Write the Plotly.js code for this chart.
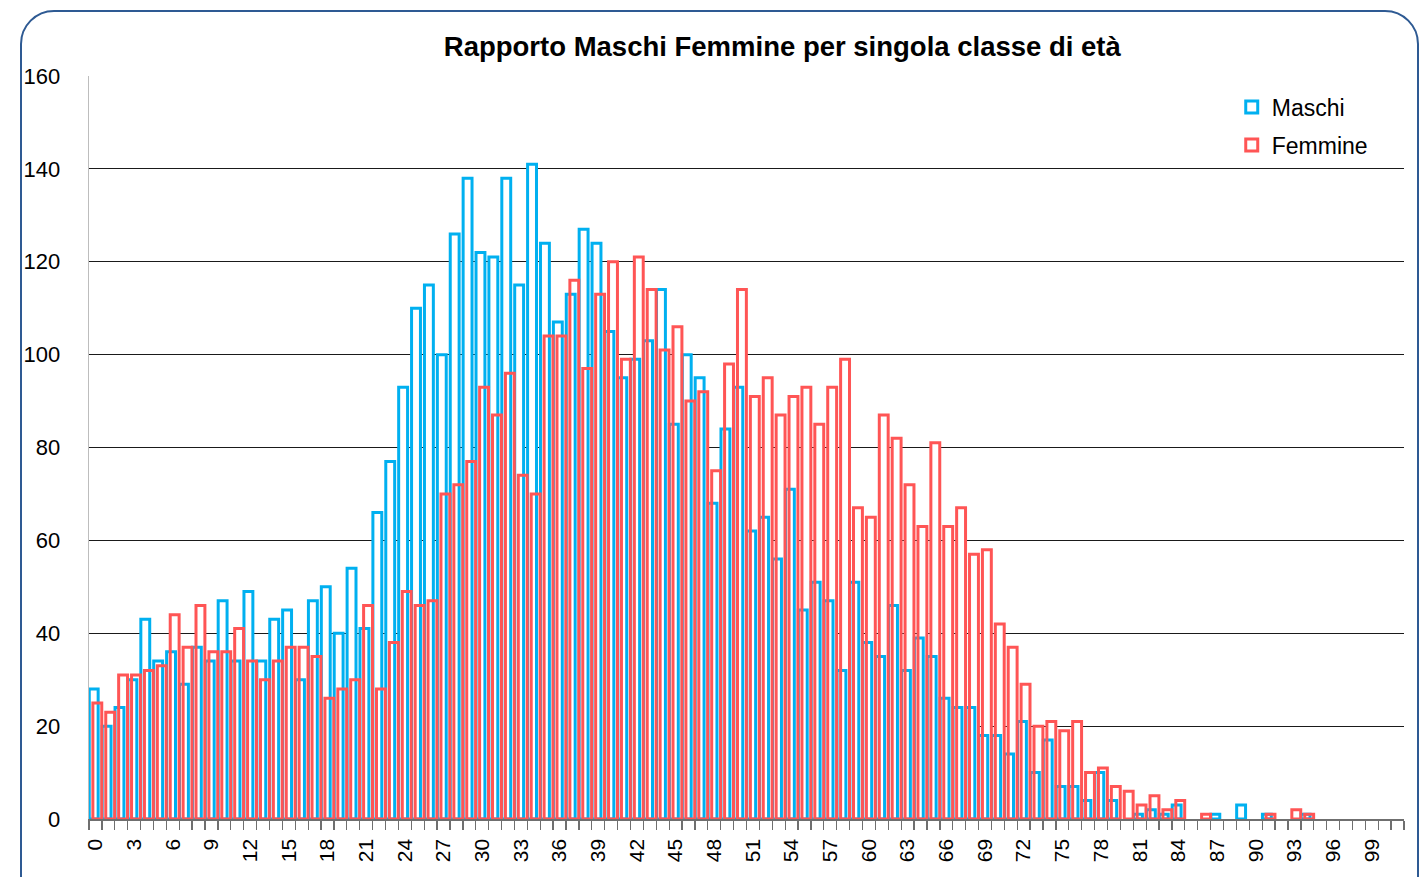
<!DOCTYPE html>
<html>
<head>
<meta charset="utf-8">
<script src="https://cdn.plot.ly/plotly-3.0.1.min.js"></script>
<style>
  html, body { margin: 0; padding: 0; background: #ffffff; overflow: hidden; }
  #frame { position: absolute; left: 20px; top: 10px; width: 1399px; height: 920px;
           border: 2.5px solid #2E5A93; border-radius: 34px; box-sizing: border-box; pointer-events: none; z-index: 5; }
  #chart { position: absolute; left: 0; top: 0; width: 1426px; height: 877px; }
</style>
</head>
<body>
<div id="chart"></div>
<div id="frame"></div>
<script>
// ---- data ----
const ages = [];
for (let a = 0; a <= 101; a++) ages.push(a);

const maschi = [
  28, 20, 24, 30, 43, 34, 36, 29, 37, 34,
  47, 34, 49, 34, 43, 45, 30, 47, 50, 40,
  54, 41, 66, 77, 93, 110, 115, 100, 126, 138,
  122, 121, 138, 115, 141, 124, 107, 113, 127, 124,
  105, 95, 99, 103, 114, 85, 100, 95, 68, 84,
  93, 62, 65, 56, 71, 45, 51, 47, 32, 51,
  38, 35, 46, 32, 39, 35, 26, 24, 24, 18,
  18, 14, 21, 10, 17, 7, 7, 4, 10, 4,
  0, 1, 2, 1, 3, 0, 0, 1, 0, 3,
  0, 1, 0, 0, 1, 0, 0, 0, 0, 0,
  0, 0
];

const femmine = [
  25, 23, 31, 31, 32, 33, 44, 37, 46, 36,
  36, 41, 34, 30, 34, 37, 37, 35, 26, 28,
  30, 46, 28, 38, 49, 46, 47, 70, 72, 77,
  93, 87, 96, 74, 70, 104, 104, 116, 97, 113,
  120, 99, 121, 114, 101, 106, 90, 92, 75, 98,
  114, 91, 95, 87, 91, 93, 85, 93, 99, 67,
  65, 87, 82, 72, 63, 81, 63, 67, 57, 58,
  42, 37, 29, 20, 21, 19, 21, 10, 11, 7,
  6, 3, 5, 2, 4, 0, 1, 0, 0, 0,
  0, 1, 0, 2, 1, 0, 0, 0, 0, 0,
  0, 0
];

const tickAges = [0, 3, 6, 9, 12, 15, 18, 21, 24, 27, 30, 33, 36, 39, 42, 45, 48,
                  51, 54, 57, 60, 63, 66, 69, 72, 75, 78, 81, 84, 87, 90, 93, 96, 99];
const yTicks = [0, 20, 40, 60, 80, 100, 120, 140, 160];

const titleText = 'Rapporto Maschi Femmine per singola classe di età';

// ---- styles ----
const BLUE = '#00B0F0';
const RED = '#FF5555';
const FONT = 'Liberation Sans, Arial, sans-serif';
const BAR_W = 0.69;
const BLUE_OFF = -0.48;
const RED_OFF = -0.2;
const LW = 3;

// empty classes are not drawn (no flat outline at zero)
const hideZero = v => (v === 0 ? null : v);

const traces = [
  { // white backing for the red outlines (hides grid lines inside them)
    type: 'bar', x: ages, y: femmine.map(hideZero), width: BAR_W, offset: RED_OFF,
    marker: { color: '#ffffff', line: { width: 0 } },
    showlegend: false, hoverinfo: 'skip'
  },
  {
    type: 'bar', name: 'Maschi', x: ages, y: maschi.map(hideZero), width: BAR_W, offset: BLUE_OFF,
    legendgroup: 'm',
    marker: { color: '#ffffff', line: { color: BLUE, width: LW } }
  },
  {
    type: 'bar', name: 'Femmine', x: ages, y: femmine.map(hideZero), width: BAR_W, offset: RED_OFF,
    legendgroup: 'f',
    marker: { color: 'rgba(255,255,255,0)', line: { color: RED, width: LW } }
  }
];

const layout = {
  width: 1426, height: 877,
  margin: { l: 89, r: 22, t: 76, b: 58, pad: 0 },
  paper_bgcolor: 'rgba(0,0,0,0)',
  plot_bgcolor: 'rgba(0,0,0,0)',
  barmode: 'overlay',
  font: { family: FONT, color: '#000000', size: 22 },
  title: {
    text: '<b>' + titleText + '</b>',
    font: { family: FONT, size: 27.5, color: '#000000' },
    x: 0.5486, xref: 'container', xanchor: 'center',
    y: 0.947, yref: 'container', yanchor: 'middle'
  },
  xaxis: {
    type: 'linear',
    range: [-0.5, 101.5],
    tickmode: 'array', tickvals: tickAges, ticktext: tickAges.map(String),
    tickangle: -90,
    ticks: 'outside', ticklen: 10, tickcolor: 'rgba(0,0,0,0)',
    tickfont: { family: FONT, size: 21, color: '#000000' },
    minor: { tick0: -0.5, dtick: 1, ticks: 'outside', ticklen: 9, tickcolor: '#6f6f6f', tickwidth: 1.3, showgrid: false },
    showline: true, linecolor: '#6f6f6f', linewidth: 1.5,
    showgrid: false, zeroline: false, fixedrange: true
  },
  yaxis: {
    range: [0, 160],
    tickmode: 'array', tickvals: yTicks, ticktext: yTicks.map(String),
    ticks: 'outside', ticklen: 23, tickcolor: 'rgba(0,0,0,0)',
    tickfont: { family: FONT, size: 22, color: '#000000' },
    showgrid: true, gridcolor: '#1a1a1a', gridwidth: 1.1,
    showline: true, linecolor: '#bdbdbd', linewidth: 1.3,
    zeroline: false, fixedrange: true
  },
  legend: {
    x: 0.869, y: 0.987, xanchor: 'left', yanchor: 'top',
    bgcolor: 'rgba(0,0,0,0)', borderwidth: 0,
    font: { family: FONT, size: 23, color: '#000000' },
    traceorder: 'grouped', tracegroupgap: 5, itemwidth: 30
  },
  showlegend: true
};

Plotly.newPlot('chart', traces, layout, { displayModeBar: false, staticPlot: true });
</script>
</body>
</html>
